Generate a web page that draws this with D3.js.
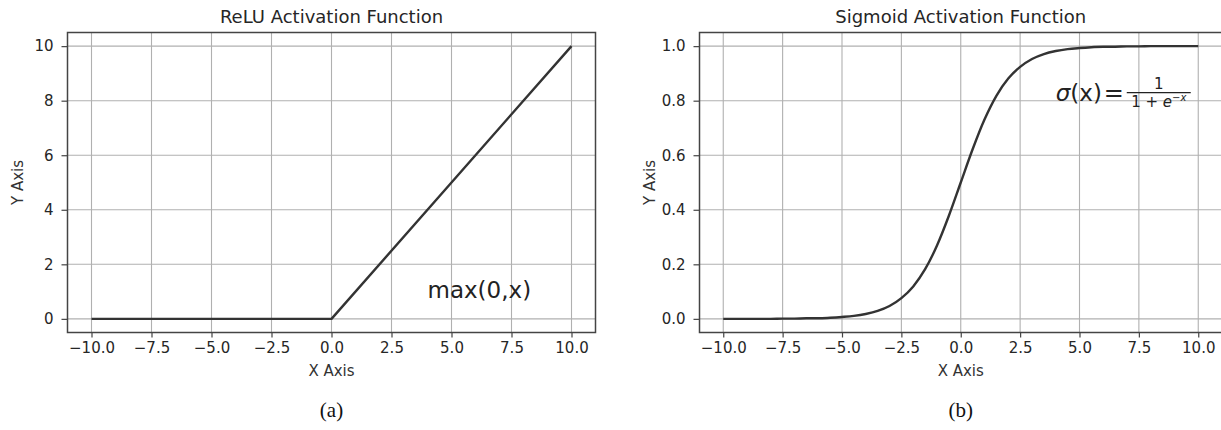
<!DOCTYPE html>
<html lang="en">
<head>
<meta charset="utf-8">
<title>ReLU and Sigmoid Activation Functions</title>
<style>
    body { margin: 0; background: white; }
    svg { display: block; font-family: "DejaVu Sans", sans-serif; }
    .grid line { stroke: #b0b0b0; stroke-width: 1.1; }
    .frame { fill: none; stroke: #444; stroke-width: 1.5; }
    .axis path { display: none; }
    .axis line { stroke: #444; stroke-width: 1.2; }
    .axis text { font-size: 15px; fill: #262626; font-family: "DejaVu Sans", sans-serif; }
    .title { font-size: 18px; fill: #262626; }
    .label { font-size: 15px; fill: #333; }
    .caption { font-family: "Liberation Serif", "Times New Roman", serif; font-size: 21px; fill: #111; }
    .curve { fill: none; stroke: #333; stroke-width: 2.4; stroke-linejoin: round; }
    .note { fill: #222; }
</style>
</head>
<body>
<svg width="1221" height="430"></svg>
<script src="https://d3js.org/d3.v7.min.js"></script>
<script>
    // tick values shared by both plots
    const xTicks = [-10, -7.5, -5, -2.5, 0, 2.5, 5, 7.5, 10];
    const reluYTicks = [0, 2, 4, 6, 8, 10];
    const sigmoidYTicks = [0, 0.2, 0.4, 0.6, 0.8, 1.0];

    // ReLU curve (corner points)
    const reluX = [-10, 0, 10];
    const reluY = [0, 0, 10];

    // sigmoid curve, every 0.5
    const sigmoidX = [-10, -9.5, -9, -8.5, -8, -7.5, -7, -6.5, -6, -5.5, -5, -4.5, -4, -3.5, -3, -2.5, -2, -1.5, -1, -0.5,
        0, 0.5, 1, 1.5, 2, 2.5, 3, 3.5, 4, 4.5, 5, 5.5, 6, 6.5, 7, 7.5, 8, 8.5, 9, 9.5, 10];
    const sigmoidY = [0.000, 0.000, 0.000, 0.000, 0.000, 0.001, 0.001, 0.002, 0.002, 0.004, 0.007, 0.011, 0.018, 0.029, 0.047, 0.076, 0.119, 0.182, 0.269, 0.378,
        0.500, 0.622, 0.731, 0.818, 0.881, 0.924, 0.953, 0.971, 0.982, 0.989, 0.993, 0.996, 0.998, 0.998, 0.999, 0.999, 1.000, 1.000, 1.000, 1.000, 1.000];

    const titles = ['ReLU Activation Function', 'Sigmoid Activation Function'];
    const captions = ['(a)', '(b)'];

    var svg = d3.select('svg');

    var panels = [
        { left: 67.5, right: 595.5, xs: reluX, ys: reluY, yTicks: reluYTicks, yDomain: [-0.5, 10.5],
          yFormat: d3.format('d'), curve: d3.curveLinear, title: titles[0], caption: captions[0] },
        { left: 699.5, right: 1222, xs: sigmoidX, ys: sigmoidY, yTicks: sigmoidYTicks, yDomain: [-0.05, 1.05],
          yFormat: d3.format('.1f'), curve: d3.curveMonotoneX, title: titles[1], caption: captions[1] }
    ];

    var plotTop = 32.5, plotBottom = 332.5;

    panels.forEach((p, i) => {
        var x = d3.scaleLinear().domain([-11, 11]).range([p.left, p.right]);
        var y = d3.scaleLinear().domain(p.yDomain).range([plotBottom, plotTop]);
        var g = svg.append('g');

        // grid
        var grid = g.append('g').attr('class', 'grid');
        grid.selectAll('.gx').data(xTicks).enter().append('line')
            .attr('x1', d => x(d)).attr('x2', d => x(d))
            .attr('y1', plotTop).attr('y2', plotBottom);
        grid.selectAll('.gy').data(p.yTicks).enter().append('line')
            .attr('x1', p.left).attr('x2', p.right)
            .attr('y1', d => y(d)).attr('y2', d => y(d));

        // curve
        var pts = p.xs.map((v, k) => [v, p.ys[k]]);
        g.append('path')
            .datum(pts)
            .attr('class', 'curve')
            .attr('d', d3.line().x(d => x(d[0])).y(d => y(d[1])).curve(p.curve));

        // frame
        g.append('rect').attr('class', 'frame')
            .attr('x', p.left).attr('y', plotTop)
            .attr('width', p.right - p.left).attr('height', plotBottom - plotTop);

        // axes
        g.append('g').attr('class', 'axis')
            .attr('transform', `translate(0,${plotBottom})`)
            .call(d3.axisBottom(x).tickValues(xTicks).tickFormat(d3.format('.1f')).tickSize(5).tickPadding(5));
        g.append('g').attr('class', 'axis')
            .attr('transform', `translate(${p.left},0)`)
            .call(d3.axisLeft(y).tickValues(p.yTicks).tickFormat(p.yFormat).tickSize(6).tickPadding(8));

        var cx = x(0);
        g.append('text').attr('class', 'title')
            .attr('x', cx).attr('y', 23).attr('text-anchor', 'middle').text(p.title);
        g.append('text').attr('class', 'label')
            .attr('x', cx).attr('y', 376).attr('text-anchor', 'middle').text('X Axis');
        g.append('text').attr('class', 'label')
            .attr('transform', `translate(${p.left - 45},${(plotTop + plotBottom) / 2}) rotate(-90)`)
            .attr('text-anchor', 'middle').text('Y Axis');
        g.append('text').attr('class', 'caption')
            .attr('x', cx).attr('y', 417).attr('text-anchor', 'middle').text(p.caption);

        p.x = x; p.y = y; p.g = g;
    });

    // annotations
    var a = panels[0];
    a.g.append('text').attr('class', 'note')
        .attr('x', a.x(4)).attr('y', a.y(0.75))
        .style('font-size', '23px')
        .text('max(0,x)');

    var b = panels[1];
    var f = b.g.append('g').attr('transform', `translate(${b.x(4)},${b.y(0.8)})`);
    var lhs = f.append('text').attr('class', 'note').style('font-size', '23px');
    lhs.append('tspan').style('font-style', 'italic').text('σ');
    lhs.append('tspan').text('(x)');
    f.append('text').attr('class', 'note').attr('x', 48).style('font-size', '24px').text('=');
    f.append('line').attr('x1', 71).attr('x2', 135).attr('y1', -8).attr('y2', -8)
        .attr('stroke', '#222').attr('stroke-width', 1.2);
    f.append('text').attr('class', 'note').attr('x', 103).attr('y', -12)
        .attr('text-anchor', 'middle').style('font-size', '15px').text('1');
    var den = f.append('text').attr('class', 'note').attr('x', 103).attr('y', 6)
        .attr('text-anchor', 'middle').style('font-size', '15px');
    den.append('tspan').text('1 + ');
    den.append('tspan').style('font-style', 'italic').text('e');
    den.append('tspan').attr('dy', -6).style('font-size', '10px').text('−');
    den.append('tspan').style('font-size', '10px').style('font-style', 'italic').text('x');
</script>
</body>
</html>
